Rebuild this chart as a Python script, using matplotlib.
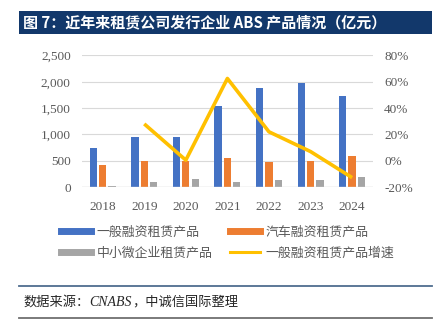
import numpy as np
import matplotlib
matplotlib.use('Agg')
import matplotlib.pyplot as plt
from matplotlib.lines import Line2D
from matplotlib.patches import Rectangle
from matplotlib.ticker import FuncFormatter

plt.rcParams['font.family'] = ['Noto Sans CJK SC', 'DejaVu Sans']

# 数据（亿元）
years = ['2018', '2019', '2020', '2021', '2022', '2023', '2024']
general = [745, 950, 950, 1540, 1876, 1983, 1724]      # 一般融资租赁产品
auto = [412, 500, 505, 551, 481, 494, 589]             # 汽车融资租赁产品
sme = [30, 95, 158, 89, 127, 133, 196]                 # 中小微企业租赁产品
growth = [None, 28.0, 0.5, 62.5, 22.0, 7.0, -12.8]     # 一般融资租赁产品增速 (%)

blue = '#4472C4'
orange = '#ED7D31'
gray = '#A5A5A5'
yellow = '#FFC000'
tick_color = '#595959'
serif = ['Liberation Serif', 'DejaVu Serif']

fig = plt.figure(figsize=(4.45, 3.26), dpi=100)
ax = fig.add_axes([0.184, 0.426, 0.654, 0.404])

x = np.arange(len(years))
w = 0.175
off = 0.225
ax.bar(x - off, general, w, color=blue, zorder=3)
ax.bar(x, auto, w, color=orange, zorder=3)
ax.bar(x + off, sme, w, color=gray, zorder=3)

ax.set_ylim(0, 2500)
ax.set_yticks(np.arange(0, 2501, 500))
ax.set_xlim(-0.5, len(years) - 0.5)
ax.set_xticks(x)
ax.set_xticklabels(years)
ax.yaxis.set_major_formatter(FuncFormatter(lambda v, p: f'{int(v):,}'))
ax.grid(axis='y', color='#D9D9D9', linewidth=0.8, zorder=0)
for s in ax.spines.values():
    s.set_visible(False)
ax.tick_params(length=0, labelsize=9.5, colors=tick_color, pad=8)
ax.tick_params(axis='x', pad=10)
for lab in ax.get_xticklabels() + ax.get_yticklabels():
    lab.set_family(serif)
ax.axhline(0, color='#D9D9D9', linewidth=1.0, zorder=4)

# 增速（右轴）
ax2 = ax.twinx()
gx = [i for i, g in enumerate(growth) if g is not None]
gy = [g for g in growth if g is not None]
ax2.plot(gx, gy, color=yellow, linewidth=2.6, zorder=5, solid_capstyle='butt')
ax2.set_ylim(-20, 80)
ax2.set_yticks(np.arange(-20, 81, 20))
ax2.yaxis.set_major_formatter(FuncFormatter(lambda v, p: f'{int(v)}%'))
for s in ax2.spines.values():
    s.set_visible(False)
ax2.tick_params(length=0, labelsize=9.5, colors=tick_color, pad=8)
for lab in ax2.get_yticklabels():
    lab.set_family(serif)

# 标题栏
fig.patches.append(Rectangle((0.043, 0.895), 0.928, 0.072, transform=fig.transFigure,
                             facecolor='#12386B', edgecolor='none'))
fig.text(0.052, 0.931, '图 7：近年来租赁公司发行企业 ABS 产品情况（亿元）',
         color='white', fontsize=10.8, fontweight='bold', va='center', ha='left')

# 图例
handles = [Line2D([], [], color=blue, lw=5),
           Line2D([], [], color=gray, lw=5),
           Line2D([], [], color=orange, lw=5),
           Line2D([], [], color=yellow, lw=2.2)]
labels = ['一般融资租赁产品', '中小微企业租赁产品', '汽车融资租赁产品', '一般融资租赁产品增速']
leg = fig.legend(handles, labels, ncol=2, loc='center left', bbox_to_anchor=(0.112, 0.255),
                 frameon=False, fontsize=9.3, handlelength=2.3, handletextpad=0.4,
                 columnspacing=1.4, labelspacing=0.6)
for t in leg.get_texts():
    t.set_color(tick_color)

# 数据来源
fig.add_artist(Line2D([0.043, 0.971], [0.123, 0.123], color='#4F6D8F', lw=1.3,
                      transform=fig.transFigure))
fig.add_artist(Line2D([0.043, 0.971], [0.025, 0.025], color='#6F6F6F', lw=1.3,
                      transform=fig.transFigure))
t1 = fig.text(0.052, 0.073, '数据来源：', fontsize=9.5, color='#262626',
              va='center', ha='left')
t2 = plt.annotate('CNABS', xy=(1, 0.5), xycoords=t1, fontsize=10, style='italic',
                  family=serif, color='#262626', va='center', ha='left')
plt.annotate('，中诚信国际整理', xy=(1, 0.5), xycoords=t2, fontsize=9.5,
             color='#262626', va='center', ha='left')

fig.savefig('out.png', dpi=100)
